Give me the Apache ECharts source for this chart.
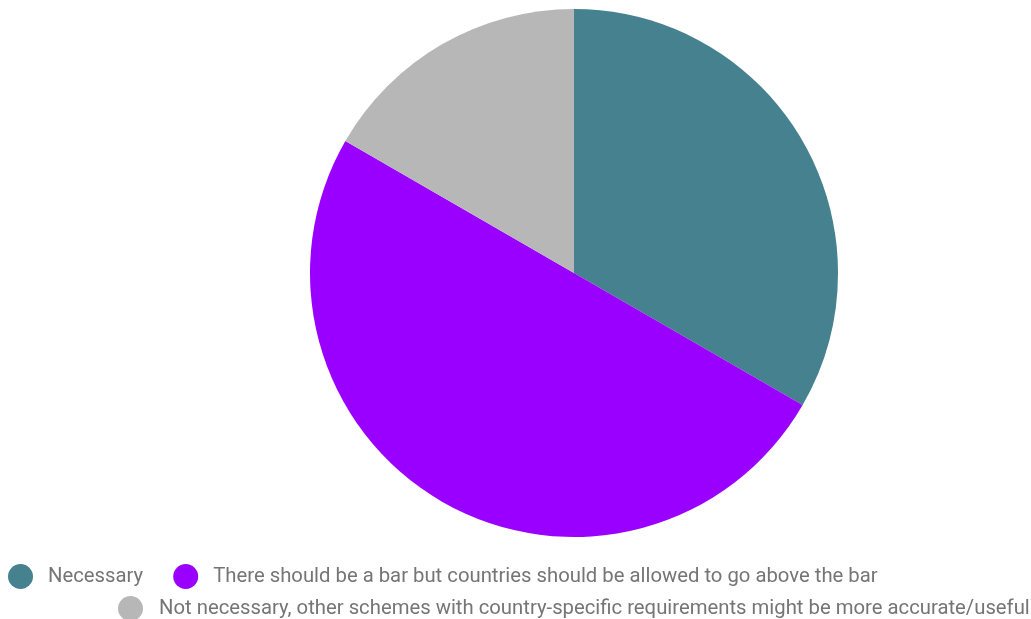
<!DOCTYPE html>
<html>
<head>
<meta charset="utf-8">
<script src="https://cdn.jsdelivr.net/npm/echarts@6/dist/echarts.min.js"></script>
<style>
html,body{margin:0;padding:0;background:#fff;}
#chart{width:1031px;height:619px;}
</style>
</head>
<body>
<div id="chart"></div>
<script>
const categories = [
  "Necessary",
  "There should be a bar but countries should be allowed to go above the bar",
  "Not necessary, other schemes with country-specific requirements might be more accurate/useful"
];
const values = [2, 3, 1];
const colors = ["#45818e", "#9900ff", "#b7b7b7"];

const chart = echarts.init(document.getElementById('chart'));
const legendText = { color: '#757575', fontSize: 20.3, fontFamily: 'Roboto', padding: [0, 0, 0, 10] };
chart.setOption({
  animation: false,
  color: colors,
  legend: [
    {
      data: [categories[0], categories[1]],
      left: 8, top: 564, padding: 0,
      icon: 'circle', itemWidth: 25, itemHeight: 25, itemGap: 30,
      textStyle: legendText
    },
    {
      data: [categories[2]],
      left: 118, top: 596, padding: 0,
      icon: 'circle', itemWidth: 25, itemHeight: 25,
      textStyle: Object.assign({}, legendText, { padding: [0, 0, 0, 11] })
    }
  ],
  series: [{
    type: 'pie',
    center: [574, 273],
    radius: 264,
    startAngle: 90,
    clockwise: true,
    label: { show: false },
    labelLine: { show: false },
    itemStyle: { borderWidth: 0 },
    emphasis: { disabled: true },
    data: categories.map((c, i) => ({ name: c, value: values[i] }))
  }]
});
</script>
</body>
</html>
